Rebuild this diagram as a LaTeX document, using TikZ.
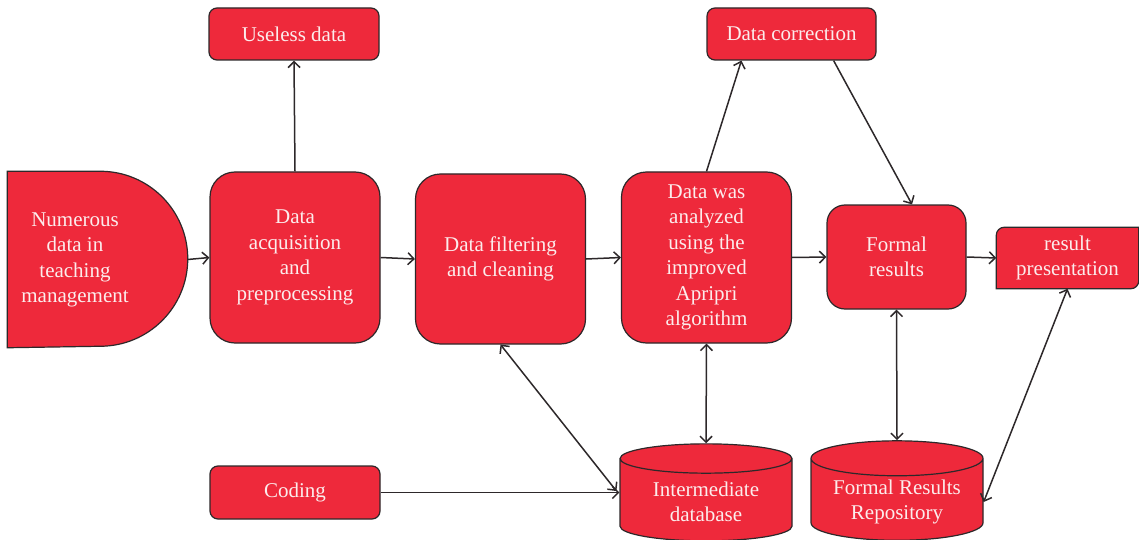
\documentclass[tikz,border=0pt]{standalone}
\usepackage{fontspec}
\setmainfont{Liberation Serif}
\usetikzlibrary{shapes.geometric, arrows.meta, backgrounds}

\definecolor{boxred}{RGB}{238,41,59}
\definecolor{edgegray}{RGB}{45,40,42}
\definecolor{boxtext}{RGB}{252,236,236}

\begin{document}
\begin{tikzpicture}[
        x=1pt, y=1pt,
        font=\fontsize{21}{25.5}\selectfont,
        line width=1.5pt,
        flow/.style = {
            draw=edgegray,
            -{Straight Barb[length=6pt, width=12pt]}
        },
        twoway/.style = {
            flow,
            {Straight Barb[length=6pt, width=12pt]}-{Straight Barb[length=6pt, width=12pt]}
        },
        block/.style = {
            draw=edgegray,
            line width=1.2pt,
            fill=boxred,
            text=boxtext,
            rectangle,
            rounded corners=25pt,
            align=center,
            minimum width=170pt,
            minimum height=171pt
        },
        small_block/.style = {
            block,
            rounded corners=8pt,
            minimum height=52pt
        },
        text_only/.style = {
            text=boxtext,
            align=center,
            inner sep=0pt
        },
        store/.style = {
            draw=edgegray,
            line width=1.2pt,
            fill=boxred,
            text=boxtext,
            align=center,
            cylinder,
            shape border rotate=90,
            aspect=0.26,
            minimum width=172pt,
            minimum height=97pt
        }
    ]

    \useasboundingbox (0,0) rectangle (1139,539);

    % main row
    \node[text_only, minimum width=179pt, minimum height=175pt] (src) at (97.5,279.5)
        {\hspace*{-45pt}\begin{tabular}{c}Numerous\\data in\\teaching\\management\end{tabular}};
    \node[block] (acq) at (295,281.5) {Data\\acquisition\\and\\preprocessing};
    \node[block, minimum height=170pt] (filter) at (500.5,280) {Data filtering\\and cleaning};
    \node[block] (apri) at (706.5,281.5) {Data was\\analyzed\\using the\\improved\\Apripri\\algorithm};
    \node[block, rounded corners=18pt, minimum width=139pt, minimum height=104pt] (formal) at (896.5,282) {Formal\\results};
    \node[text_only, minimum width=141pt, minimum height=60pt] (pres) at (1067.5,281) {result\\presentation};

    % top row
    \node[small_block] (useless) at (294,505) {Useless data};
    \node[small_block, minimum width=169pt] (corr) at (791.5,505) {Data correction};

    % bottom row
    \node[small_block, minimum height=53pt] (coding) at (295,46.5) {Coding};
    \node[store] (inter) at (706,37) {Intermediate\\database};
    \node[store] (repo) at (897,37) {Formal Results\\Repository};

    \begin{scope}[on background layer]
        \fill[white] (0,0) rectangle (1139,539);
        \draw[draw=edgegray, line width=1.2pt, fill=boxred]
            (src.north west) -- ([xshift=-87.5pt]src.north east)
            arc[start angle=90, end angle=-90, radius=87.5pt]
            -- (src.south west) -- cycle;
        \draw[draw=edgegray, line width=1.2pt, fill=boxred]
            ([yshift=-8pt]pres.north west)
            arc[start angle=180, end angle=90, radius=8pt]
            -- (pres.north east) -- ([yshift=8pt]pres.south east)
            arc[start angle=0, end angle=-90, radius=8pt]
            -- (pres.south west) -- cycle;
    \end{scope}

    % connectors
    \draw[flow] (src.east) -- (acq.west);
    \draw[flow] (acq.east) -- (filter.west);
    \draw[flow] (filter.east) -- (apri.west);
    \draw[flow] (apri.east) -- (formal.west);
    \draw[flow] (formal.east) -- (pres.west);

    \draw[flow] (acq.north) -- (useless.south);
    \draw[flow] (apri.north) -- ([xshift=35pt]corr.south west);
    \draw[flow] ([xshift=-43pt]corr.south east) -- ([xshift=15.5pt]formal.north);

    \draw[twoway] (filter.south) -- ([xshift=-3pt, yshift=11pt]inter.west);
    \draw[twoway] (apri.south) -- (inter.north);
    \draw[twoway] (formal.south) -- (repo.north);
    \draw[twoway] (pres.south) -- (repo.east);
    \draw[flow] (coding.east) -- (coding.east -| inter.west);

\end{tikzpicture}
\end{document}
